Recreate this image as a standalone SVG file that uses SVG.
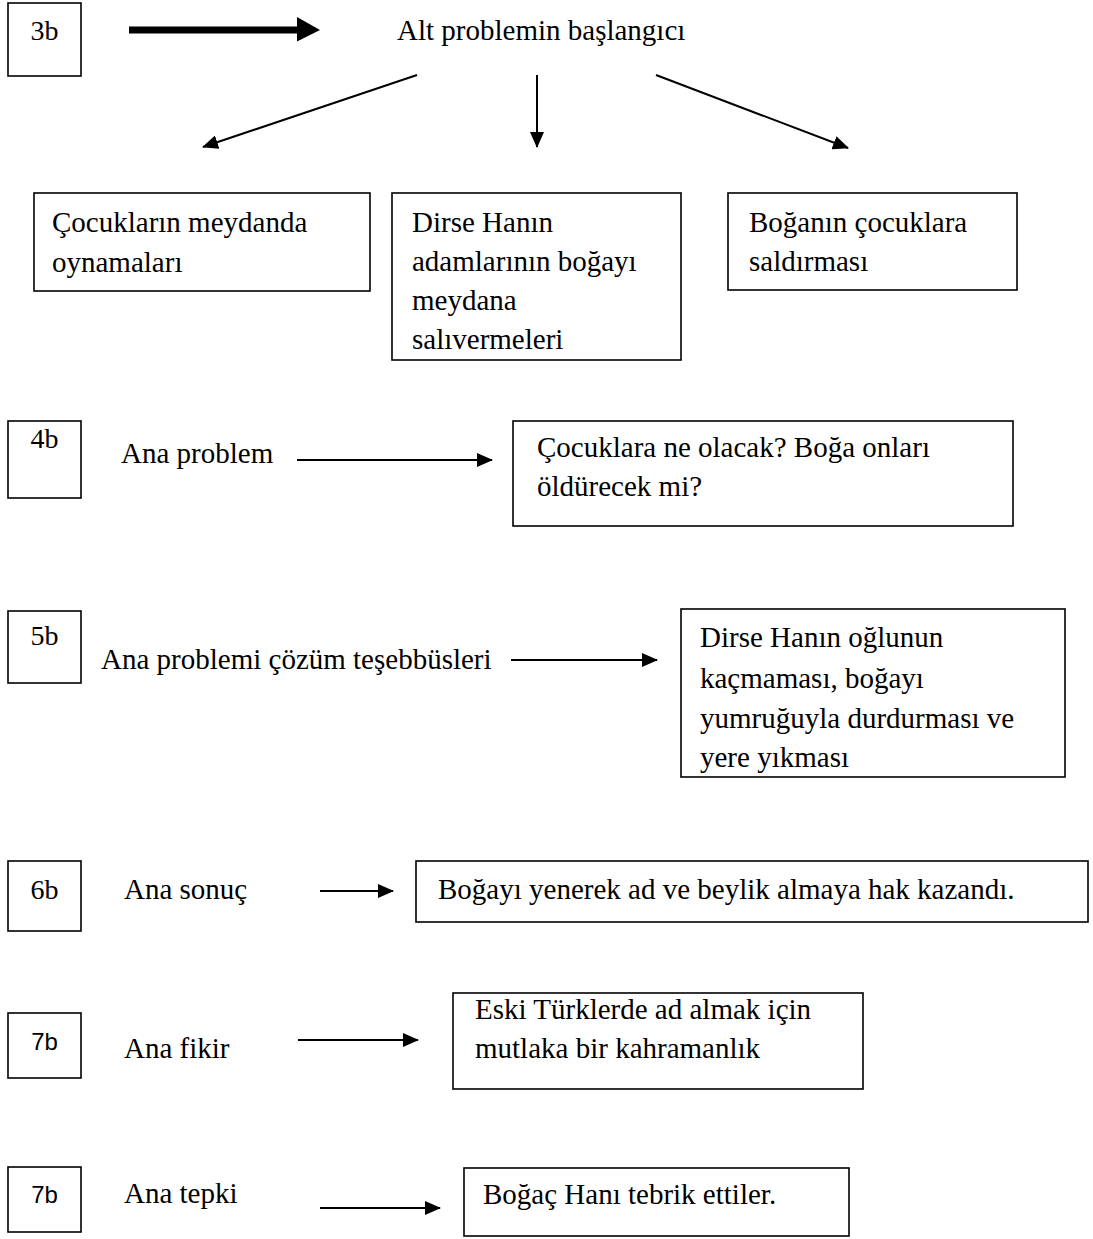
<svg xmlns="http://www.w3.org/2000/svg" width="1093" height="1239" viewBox="0 0 1093 1239">
  <style>
    .box { fill: #fff; stroke: #000; stroke-width: 1.6; }
    .t { font-family: "Liberation Serif", "Times New Roman", serif; font-size: 29px; fill: #000; }
    .n { font-family: "Liberation Serif", "Times New Roman", serif; font-size: 28px; fill: #000; text-anchor: middle; }
    .ns { font-family: "Liberation Sans", Arial, sans-serif; font-size: 24px; fill: #000; text-anchor: middle; }
    .line { fill: none; stroke: #000; stroke-width: 2; }
  </style>
  <defs>
    <marker id="arrow" viewBox="0 0 16 14" refX="15" refY="7" markerWidth="16" markerHeight="14" markerUnits="userSpaceOnUse" orient="auto">
      <path d="M0,0 L16,7 L0,14 Z" fill="#000"/>
    </marker>
  </defs>

  <rect width="1093" height="1239" fill="#fff"/>

  <!-- connectors -->
  <g id="connectors">
    <polygon points="129,26.5 297,26.5 297,17 320,30 297,41.5 297,33.5 129,33.5" fill="#000"/>
    <line class="line" x1="417" y1="75" x2="203" y2="147" marker-end="url(#arrow)"/>
    <line class="line" x1="537" y1="75" x2="537" y2="147" marker-end="url(#arrow)"/>
    <line class="line" x1="656" y1="75" x2="848" y2="148" marker-end="url(#arrow)"/>
    <line class="line" x1="297" y1="460" x2="492" y2="460" marker-end="url(#arrow)"/>
    <line class="line" x1="511" y1="660" x2="657" y2="660" marker-end="url(#arrow)"/>
    <line class="line" x1="320" y1="891" x2="393" y2="891" marker-end="url(#arrow)"/>
    <line class="line" x1="298" y1="1040" x2="418" y2="1040" marker-end="url(#arrow)"/>
    <line class="line" x1="320" y1="1208" x2="440" y2="1208" marker-end="url(#arrow)"/>
  </g>

  <!-- section 3b -->
  <g id="label-3b">
    <rect class="box" x="8" y="3" width="73" height="73"/>
    <text class="n" x="44.5" y="40">3b</text>
  </g>
  <g id="alt-problem">
    <text class="t" x="397" y="40">Alt problemin başlangıcı</text>
  </g>
  <g id="cocuklarin-oynamalari">
    <rect class="box" x="34" y="193" width="336" height="98"/>
    <text class="t" x="52" y="232">Çocukların meydanda</text>
    <text class="t" x="52" y="272">oynamaları</text>
  </g>
  <g id="bogayi-salivermeleri">
    <rect class="box" x="392" y="193" width="289" height="167"/>
    <text class="t" x="412" y="232">Dirse Hanın</text>
    <text class="t" x="412" y="271">adamlarının boğayı</text>
    <text class="t" x="412" y="310">meydana</text>
    <text class="t" x="412" y="349">salıvermeleri</text>
  </g>
  <g id="boga-saldirmasi">
    <rect class="box" x="728" y="193" width="289" height="97"/>
    <text class="t" x="749" y="232">Boğanın çocuklara</text>
    <text class="t" x="749" y="271">saldırması</text>
  </g>

  <!-- section 4b -->
  <g id="label-4b">
    <rect class="box" x="8" y="421" width="73" height="77"/>
    <text class="n" x="44.5" y="448">4b</text>
  </g>
  <g id="ana-problem">
    <text class="t" x="121" y="463">Ana problem</text>
  </g>
  <g id="ana-problem-box">
    <rect class="box" x="513" y="421" width="500" height="105"/>
    <text class="t" x="537" y="457">Çocuklara ne olacak? Boğa onları</text>
    <text class="t" x="537" y="496">öldürecek mi?</text>
  </g>

  <!-- section 5b -->
  <g id="label-5b">
    <rect class="box" x="8" y="611" width="73" height="72"/>
    <text class="n" x="44.5" y="645">5b</text>
  </g>
  <g id="cozum-tesebbusleri">
    <text class="t" x="101" y="669">Ana problemi çözüm teşebbüsleri</text>
  </g>
  <g id="cozum-box">
    <rect class="box" x="681" y="609" width="384" height="168"/>
    <text class="t" x="700" y="647">Dirse Hanın oğlunun</text>
    <text class="t" x="700" y="688">kaçmaması, boğayı</text>
    <text class="t" x="700" y="728">yumruğuyla durdurması ve</text>
    <text class="t" x="700" y="767">yere yıkması</text>
  </g>

  <!-- section 6b -->
  <g id="label-6b">
    <rect class="box" x="8" y="861" width="73" height="70"/>
    <text class="n" x="44.5" y="899">6b</text>
  </g>
  <g id="ana-sonuc">
    <text class="t" x="124" y="899">Ana sonuç</text>
  </g>
  <g id="sonuc-box">
    <rect class="box" x="416" y="861" width="672" height="61"/>
    <text class="t" x="438" y="899">Boğayı yenerek ad ve beylik almaya hak kazandı.</text>
  </g>

  <!-- section 7b: main idea -->
  <g id="label-7b-fikir">
    <rect class="box" x="8" y="1013" width="73" height="65"/>
    <text class="ns" x="44.5" y="1050">7b</text>
  </g>
  <g id="ana-fikir">
    <text class="t" x="124" y="1058">Ana fikir</text>
  </g>
  <g id="fikir-box">
    <rect class="box" x="453" y="993" width="410" height="96"/>
    <text class="t" x="475" y="1019">Eski Türklerde ad almak için</text>
    <text class="t" x="475" y="1058">mutlaka bir kahramanlık</text>
  </g>

  <!-- section 7b: reaction -->
  <g id="label-7b-tepki">
    <rect class="box" x="8" y="1167" width="73" height="65"/>
    <text class="ns" x="44.5" y="1203">7b</text>
  </g>
  <g id="ana-tepki">
    <text class="t" x="124" y="1203">Ana tepki</text>
  </g>
  <g id="tepki-box">
    <rect class="box" x="464" y="1168" width="385" height="68"/>
    <text class="t" x="483" y="1204">Boğaç Hanı tebrik ettiler.</text>
  </g>
</svg>
